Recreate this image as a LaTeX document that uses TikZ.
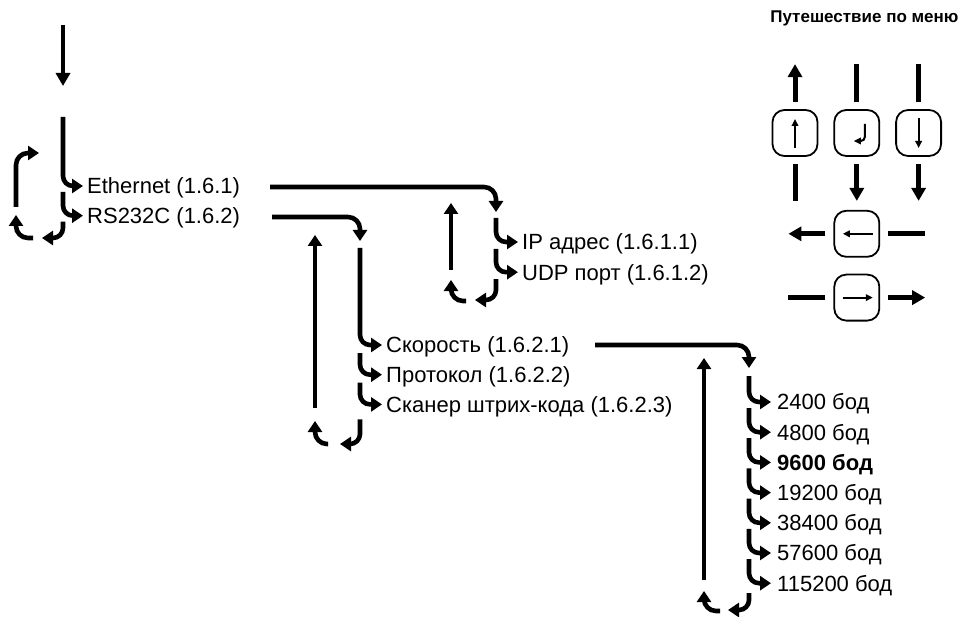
\documentclass[tikz,border=0pt]{standalone}
\usepackage{fontspec}
\setmainfont{Liberation Sans}
\usetikzlibrary{arrows.meta, positioning, calc}

\begin{document}
\begin{tikzpicture}[
  x=1pt, y=-1pt,
  lbl/.style={
    anchor=west, inner xsep=4pt, inner ysep=0pt,
    font=\fontsize{22}{26}\selectfont,
    text height=15.8pt, text depth=0pt
  },
  baud/.style={lbl, inner xsep=6pt},
  tree/.style={
    line width=4.6pt, rounded corners=10pt,
    -{Triangle[length=11pt, width=14pt]}
  },
  curl/.style={tree, rounded corners=12pt},
  entry/.style={line width=4.6pt, -{Triangle[length=13pt, width=14pt]}},
  key/.style={
    draw, line width=1.8pt, rounded corners=12pt,
    minimum width=45pt, minimum height=46pt
  },
  keyarr/.style={line width=5pt, -{Triangle[length=13pt, width=14pt]}},
  keybar/.style={line width=5pt},
  icon/.style={line width=2pt, -{Triangle[length=7pt, width=6.5pt]}},
  node distance=14.5pt
]
\useasboundingbox (0,0) rectangle (965,617);

%% ═══ ВХОД ═══
\coordinate (entry) at (63,25);
\coordinate (entryend) at (63,86);
\draw[entry] (entry) -- (entryend);

%% ═══ 1.6 ═══
\coordinate (mtop) at (63,117);
\node[lbl] (eth) at (83,186) {Ethernet (1.6.1)};
\node[lbl, below right=13.5pt and 0pt of eth.south west] (rs) {RS232C (1.6.2)};
\draw[tree] (mtop) |- (eth.west);
\draw[tree] ($(eth.west -| mtop)+(0,6)$) |- (rs.west);

\coordinate (mret) at (42,238);
\coordinate (mcurl) at (33,238);
\coordinate (mcurlend) at (16,215);
\coordinate (mback) at (16,207);
\coordinate (mbackend) at (39,153);
\draw[tree] ($(rs.west -| mtop)+(0,6)$) |- (mret);
\draw[curl] (mcurl) -| (mcurlend);
\draw[curl] (mback) |- (mbackend);

%% ═══ 1.6.1 ═══
\coordinate (ethout) at (270,187);
\coordinate (ipin) at (496,212);
\draw[curl] (ethout) -| (ipin);

\node[lbl] (ip) at (518,242) {IP адрес (1.6.1.1)};
\node[lbl, below right=14pt and 0pt of ip.south west] (udp) {UDP порт (1.6.1.2)};
\draw[tree] ($(ipin)+(0,6)$) |- (ip.west);
\draw[tree] ($(ip.west -| ipin)+(0,7)$) |- (udp.west);

\coordinate (ipret) at (475,300);
\coordinate (ipcurl) at (466,301);
\coordinate (ipcurlend) at (451,280);
\coordinate (ipback) at (451,270);
\coordinate (ipbackend) at (451,203);
\draw[tree] ($(udp.west -| ipin)+(0,7)$) |- (ipret);
\draw[curl] (ipcurl) -| (ipcurlend);
\draw[tree] (ipback) -- (ipbackend);

%% ═══ 1.6.2 ═══
\coordinate (rsout) at (272,217);
\coordinate (skin) at (360,241);
\draw[curl] (rsout) -| (skin);

\node[lbl] (sk) at (382,345) {Скорость (1.6.2.1)};
\node[lbl, below right=13.5pt and 0pt of sk.south west] (pr) {Протокол (1.6.2.2)};
\node[lbl, below right=13.5pt and 0pt of pr.south west] (sc) {Сканер штрих-кода (1.6.2.3)};
\draw[tree] ($(skin)+(0,7)$) |- (sk.west);
\draw[tree] ($(sk.west -| skin)+(0,8)$) |- (pr.west);
\draw[tree] ($(pr.west -| skin)+(0,8)$) |- (sc.west);

\coordinate (skret) at (340,444);
\coordinate (skcurl) at (328,444);
\coordinate (skcurlend) at (315,421);
\coordinate (skback) at (315,408);
\coordinate (skbackend) at (315,235);
\draw[tree] ($(sc.west -| skin)+(0,15)$) |- (skret);
\draw[curl] (skcurl) -| (skcurlend);
\draw[tree] (skback) -- (skbackend);

%% ═══ 1.6.2.1 ═══
\coordinate (skout) at (595,345);
\coordinate (bin) at (749,368);
\draw[curl] (skout) -| (bin);

\node[baud] (b1) at (771,402) {2400 бод};
\node[baud, below right=14pt and 0pt of b1.south west] (b2) {4800 бод};
\node[baud, below right=14pt and 0pt of b2.south west] (b3) {\textbf{9600 бод}};
\node[baud, below right=14pt and 0pt of b3.south west] (b4) {19200 бод};
\node[baud, below right=14pt and 0pt of b4.south west] (b5) {38400 бод};
\node[baud, below right=14pt and 0pt of b5.south west] (b6) {57600 бод};
\node[baud, below right=14pt and 0pt of b6.south west] (b7) {115200 бод};
\draw[tree] ($(bin)+(0,8)$) |- (b1.west);
\draw[tree] ($(b1.west -| bin)+(0,6)$) |- (b2.west);
\draw[tree] ($(b2.west -| bin)+(0,6)$) |- (b3.west);
\draw[tree] ($(b3.west -| bin)+(0,6)$) |- (b4.west);
\draw[tree] ($(b4.west -| bin)+(0,6)$) |- (b5.west);
\draw[tree] ($(b5.west -| bin)+(0,6)$) |- (b6.west);
\draw[tree] ($(b6.west -| bin)+(0,6)$) |- (b7.west);

\coordinate (bret) at (728,610);
\coordinate (bcurl) at (720,611);
\coordinate (bcurlend) at (704,591);
\coordinate (bback) at (704,580);
\coordinate (bbackend) at (704,358);
\draw[tree] ($(b7.west -| bin)+(0,10)$) |- (bret);
\draw[curl] (bcurl) -| (bcurlend);
\draw[tree] (bback) -- (bbackend);

%% ═══ ЛЕГЕНДА ═══
\node[font=\bfseries\fontsize{17}{20}\selectfont, anchor=east] (title) at (962,18)
  {Путешествие по меню};

\node[key] (kup) at (795,133) {};
\node[key, right=15pt of kup] (kenter) {};
\node[key, right=15pt of kenter] (kdown) {};
\node[key, below=53pt of kenter] (kleft) {};
\node[key, below=16pt of kleft] (kright) {};

\draw[icon] ([yshift=-15pt]kup.center) -- ([yshift=14pt]kup.center);
\draw[icon, rounded corners=4pt] ([shift={(8pt,9pt)}]kenter.center)
  |- ([shift={(-3pt,-8pt)}]kenter.center);
\draw[icon] ([yshift=15pt]kdown.center) -- ([yshift=-15pt]kdown.center);
\draw[icon] ([xshift=16pt]kleft.center) -- ([xshift=-14pt]kleft.center);
\draw[icon] ([xshift=-14pt]kright.center) -- ([xshift=16pt]kright.center);

\draw[keyarr] ([yshift=7pt]kup.north) -- ([yshift=45pt]kup.north);
\draw[keybar] ([yshift=-7pt]kup.south) -- ([yshift=-44pt]kup.south);
\draw[keybar] ([yshift=7pt]kenter.north) -- ([yshift=45pt]kenter.north);
\draw[keyarr] ([yshift=-7pt]kenter.south) -- ([yshift=-44pt]kenter.south);
\draw[keybar] ([yshift=7pt]kdown.north) -- ([yshift=45pt]kdown.north);
\draw[keyarr] ([yshift=-7pt]kdown.south) -- ([yshift=-44pt]kdown.south);

\draw[keyarr] ([xshift=-8pt]kleft.west) -- ([xshift=-45pt]kleft.west);
\draw[keybar] ([xshift=8pt]kleft.east) -- ([xshift=45pt]kleft.east);
\draw[keybar] ([xshift=-8pt]kright.west) -- ([xshift=-45pt]kright.west);
\draw[keyarr] ([xshift=8pt]kright.east) -- ([xshift=45pt]kright.east);

\end{tikzpicture}
\end{document}
